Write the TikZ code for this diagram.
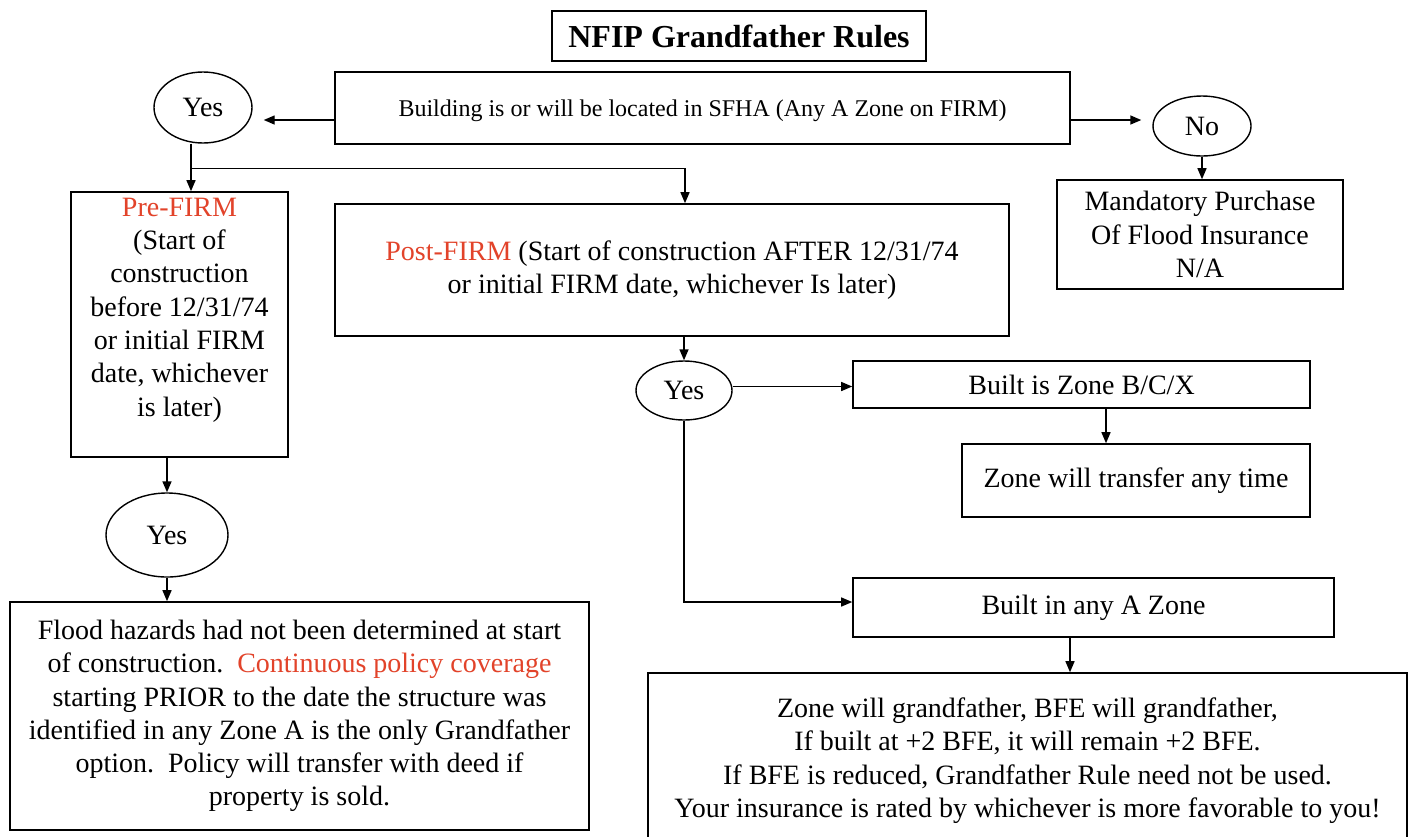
\documentclass[tikz,border=0pt]{standalone}
\usepackage{fontspec}
\setmainfont{Liberation Serif}
\usepackage{tikz}
\usepackage{xcolor}
\usetikzlibrary{shapes.geometric,arrows.meta}

\begin{document}
\begin{tikzpicture}[x=1pt,y=-1pt,
  box/.style={draw,line width=1.6pt,inner sep=3pt,align=center,font=\fontsize{28}{33.3}\selectfont},
  yesnode/.style={draw,ellipse,line width=1.4pt,inner sep=0pt,font=\fontsize{28}{33.3}\selectfont},
  arr/.style={line width=1.4pt,-{Triangle[length=11pt,width=9pt]}}]
\definecolor{firmred}{HTML}{E2432A}
\path[use as bounding box,fill=white] (0,0) rectangle (1410,836);
\node [box,font=\bfseries\fontsize{32}{36}\selectfont,minimum width=374pt,minimum height=50pt] (title) at (739,36) {NFIP Grandfather Rules};
\node [box,font=\fontsize{24}{28}\selectfont,text depth=0pt,minimum width=735pt,minimum height=72pt] (sfha) at (702.5,108) {Building is or will be located in SFHA (Any A Zone on FIRM)};
  \foreach \nm/\cx/\cy/\w/\h in {yesA/203/107.5/98/71,yesB/684/390.5/96/59,yesC/167/535/122/84}
  {  \node [yesnode,minimum width=\w pt,minimum height=\h pt] (\nm) at (\cx,\cy) {Yes};}
\node [yesnode,minimum width=98pt,minimum height=60pt] (no) at (1202,126) {No};
\node [box,minimum width=286pt,minimum height=109pt] (mand) at (1200,234.5) {Mandatory Purchase\\Of Flood Insurance\\N/A};
\node [box,minimum width=217pt,minimum height=265pt] (pre) at (179.5,324.5) {};
\node [box,draw=none,inner sep=0pt,anchor=north] (preTxt) at ([yshift=-6pt]pre.north) {\textcolor{firmred}{Pre-FIRM}\\(Start of\\construction\\before 12/31/74\\or initial FIRM\\date, whichever\\is later)};
\node [box,minimum width=674pt,minimum height=132pt] (post) at (672,270) {\textcolor{firmred}{Post-FIRM} (Start of construction AFTER 12/31/74\\or initial FIRM date, whichever Is later)};
\node [box,minimum width=457pt,minimum height=47pt] (bcx) at (1081.5,384.5) {Built is Zone B/C/X};
\node [box,minimum width=348pt,minimum height=73pt] (anyTime) at (1136,480.5) {Zone will transfer any time};
\node [box,minimum width=481pt,minimum height=59pt] (anyA) at (1093.5,607.5) {Built in any A Zone};
\node [box,minimum width=759pt,minimum height=175pt] (gf) at (1027.5,760.5) {Zone will grandfather, BFE will grandfather,\\If built at +2 BFE, it will remain +2 BFE.\\If BFE is reduced, Grandfather Rule need not be used.\\Your insurance is rated by whichever is more favorable to you!};
\node [box,minimum width=579pt,minimum height=228pt] (flood) at (299.5,716) {Flood hazards had not been determined at start\\of construction.\ \ \textcolor{firmred}{Continuous policy coverage}\\starting PRIOR to the date the structure was\\identified in any Zone A is the only Grandfather\\option.\ \ Policy will transfer with deed if\\property is sold.};
\draw[arr] ([yshift=-12pt]sfha.west) -- ([xshift=11pt,yshift=-12.5pt]yesA.east);
\draw[arr] ([yshift=-12pt]sfha.east) -- ([xshift=-11pt,yshift=6pt]no.west);
\draw[arr] (no.south) -- (no.south |- mand.north);
\draw[arr] ([xshift=-12pt]yesA.south) -- ([xshift=11.5pt]pre.north);
\draw[arr] ([xshift=-12pt,yshift=-25pt]yesA.south) -| ([xshift=13pt]post.north);
\draw[arr] (post.south -| yesB.north) -- (yesB.north);
\draw[arr] ([yshift=4pt]yesB.east) -- ([yshift=4pt]yesB.east -| bcx.west);
\draw[arr] ([xshift=24.5pt]bcx.south) -- ([xshift=-30pt]anyTime.north);
\draw[arr] (yesB.south) |- ([yshift=5.5pt]anyA.west);
\draw[arr] ([xshift=-23.5pt]anyA.south) -- ([xshift=42.5pt]gf.north);
\draw[arr] (pre.south -| yesC.north) -- (yesC.north);
\draw[arr] (yesC.south) -- (yesC.south |- flood.north);
\end{tikzpicture}
\end{document}
